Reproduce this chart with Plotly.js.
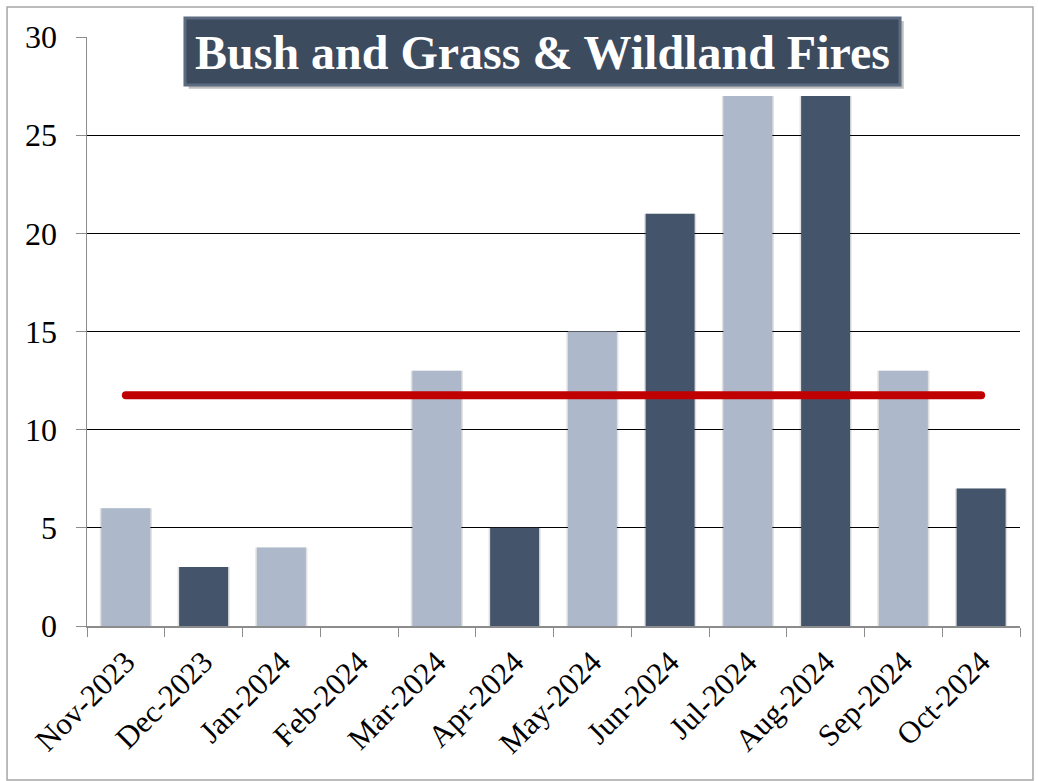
<!DOCTYPE html>
<html>
<head>
<meta charset="utf-8">
<script src="https://cdn.plot.ly/plotly-3.0.1.min.js"></script>
<style>
html,body{margin:0;padding:0;background:#fff;}
#chart{width:1038px;height:781px;}
.scatterlayer path.js-line{stroke-linecap:round;}
</style>
</head>
<body>
<div id="chart"></div>
<script>
var months = ["Nov-2023","Dec-2023","Jan-2024","Feb-2024","Mar-2024","Apr-2024","May-2024","Jun-2024","Jul-2024","Aug-2024","Sep-2024","Oct-2024"];
var fires = [6,3,4,0,13,5,15,21,27,27,13,7];
var barColors = ["#ADB9CA","#44546A","#ADB9CA","#44546A","#ADB9CA","#44546A","#ADB9CA","#44546A","#ADB9CA","#44546A","#ADB9CA","#44546A"];
var yTicks = [0,5,10,15,20,25,30];
var chartTitle = "Bush and Grass & Wildland Fires";

var avg = fires.reduce(function(a,b){return a+b;},0)/fires.length;

var shadow = {
  type:"bar", x:months, y:fires, width:0.67,
  marker:{color:"rgba(0,0,0,0.12)", line:{width:0}},
  hoverinfo:"skip", showlegend:false
};
var bars = {
  type:"bar", x:months, y:fires, width:0.63,
  marker:{color:barColors, line:{width:0}},
  showlegend:false
};
var avgLine = {
  type:"scatter", mode:"lines",
  x:[months[0], months[months.length-1]], y:[avg, avg],
  line:{color:"#C00000", width:8},
  showlegend:false
};

var font = "Liberation Serif, Times New Roman, serif";
var layout = {
  width:1038, height:781,
  margin:{l:87, r:18, t:37, b:155},
  paper_bgcolor:"#fff", plot_bgcolor:"#fff",
  font:{family:font, color:"#000", size:31},
  barmode:"overlay",
  xaxis:{
    type:"category", tickangle:-45, tickson:"boundaries",
    ticks:"outside", ticklen:9, tickcolor:"#8c8c8c",
    showline:true, linecolor:"#8c8c8c", linewidth:1.5,
    showgrid:false, tickfont:{family:font, size:31, color:"#000"},
    ticklabelstandoff:4,
    fixedrange:true
  },
  yaxis:{
    range:[0,30], tickvals:yTicks, ticktext:yTicks.map(String),
    ticks:"outside", ticklen:10, tickcolor:"#8c8c8c",
    showline:true, linecolor:"#8c8c8c", linewidth:1.5,
    showgrid:true, gridcolor:"#000", gridwidth:1,
    zeroline:false, tickfont:{family:font, size:32, color:"#000"},
    ticklabelstandoff:12,
    fixedrange:true
  },
  shapes:[
    {type:"rect", xref:"paper", yref:"paper", x0:-0.0857, x1:1.0139, y0:-0.2615, y1:1.051,
     line:{color:"#a6a6a6", width:1.5}, fillcolor:"rgba(0,0,0,0)", layer:"below"},
    {type:"rect", xref:"paper", yref:"paper", x0:0.109, x1:0.8754, y0:0.912, y1:1.0273,
     line:{width:0}, fillcolor:"rgba(0,0,0,0.25)"},
    {type:"rect", xref:"paper", yref:"paper", x0:0.105, x1:0.8714, y0:0.9185, y1:1.0323,
     line:{color:"#5d6b80", width:3}, fillcolor:"#3D4B5F"}
  ],
  annotations:[
    {text:"<b>"+chartTitle+"</b>", xref:"paper", yref:"paper", x:0.4877, y:0.9745,
     xanchor:"center", yanchor:"middle", showarrow:false,
     font:{family:font, size:48, color:"#fff"}}
  ]
};

Plotly.newPlot("chart", [shadow, bars, avgLine], layout, {displayModeBar:false, staticPlot:true});
</script>
</body>
</html>
